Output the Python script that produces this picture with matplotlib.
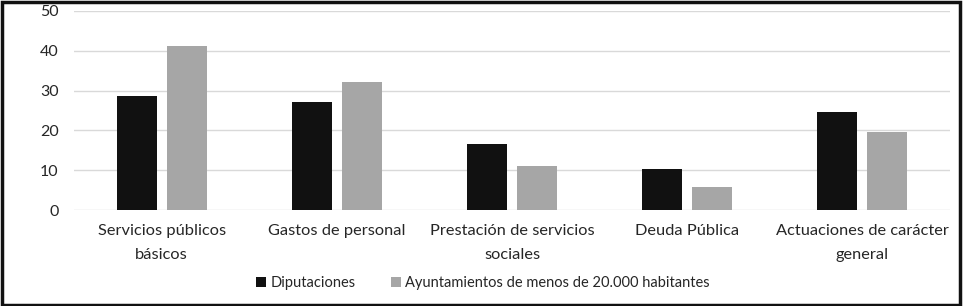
import numpy as np
import matplotlib.pyplot as plt
from matplotlib.patches import Rectangle

# Data
categorias = ["Servicios públicos\nbásicos", "Gastos de personal",
              "Prestación de servicios\nsociales", "Deuda Pública",
              "Actuaciones de carácter\ngeneral"]
diputaciones = [28.6, 27.2, 16.7, 10.2, 24.7]
ayuntamientos = [41.1, 32.1, 11.1, 5.7, 19.6]
series_names = ["Diputaciones", "Ayuntamientos de menos de 20.000 habitantes"]

plt.rcParams['font.family'] = ['Lato', 'DejaVu Sans']

fig = plt.figure(figsize=(9.63, 3.06), dpi=100)
ax = fig.add_axes([74/963, 1 - 210/306, 876/963, 199/306])

x = np.arange(len(categorias))
w = 0.228
gap = 0.057
ax.bar(x - (w + gap)/2, diputaciones, w, color='#111111', label=series_names[0], zorder=3)
ax.bar(x + (w + gap)/2, ayuntamientos, w, color='#a6a6a6', label=series_names[1], zorder=3)

ax.set_xlim(-0.5, len(categorias) - 0.5)
ax.set_ylim(0, 50)
ax.set_yticks(range(0, 51, 10))
ax.set_xticks(x)
ax.set_xticklabels(categorias, fontsize=11.8, color='#262626', linespacing=1.95)
ax.tick_params(axis='y', labelsize=11.5, colors='#262626', length=0, pad=11)
ax.tick_params(axis='x', length=0, pad=10)
ax.grid(axis='y', color='#d9d9d9', linewidth=1, zorder=0)
for s in ax.spines.values():
    s.set_visible(False)

fig.legend(loc='center', bbox_to_anchor=(483/963, 1 - 283/306), ncol=2, frameon=False,
           fontsize=10.5, handlelength=0.7, handleheight=0.7, handletextpad=0.3,
           columnspacing=2.4, labelcolor='#262626')

# outer border of the picture
fig.patches.append(Rectangle((0.002, 0.004), 0.995, 0.99, transform=fig.transFigure,
                             fill=False, edgecolor='#111111', linewidth=2.5))

fig.savefig("out.png", dpi=100)
